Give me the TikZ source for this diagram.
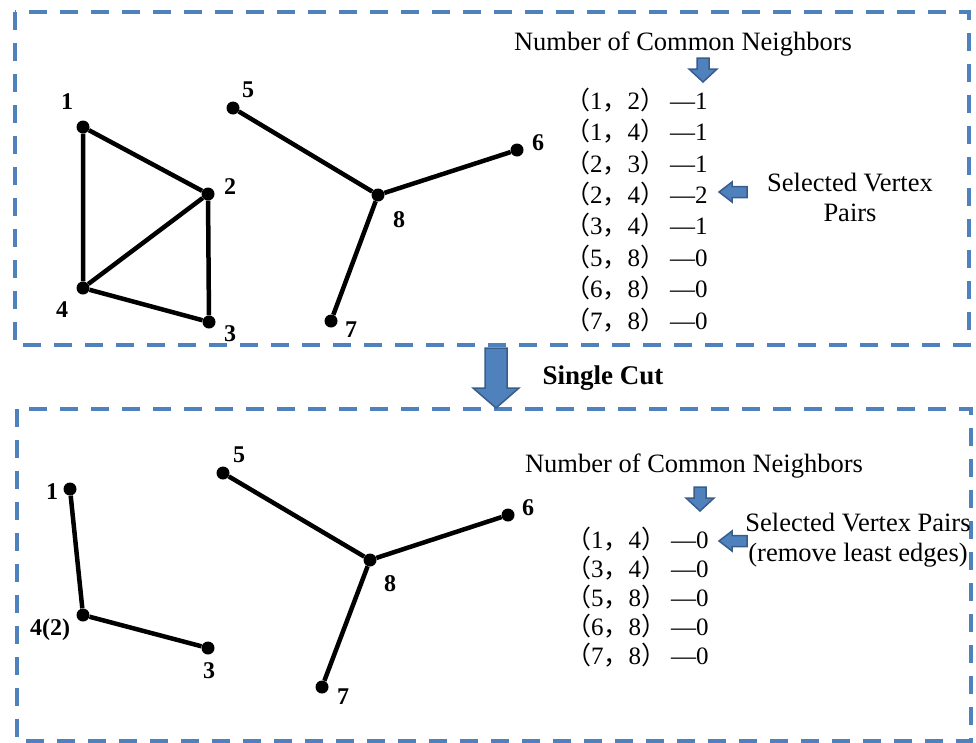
\documentclass[tikz,border=0pt]{standalone}
\usepackage{fontspec}
\setmainfont{Liberation Serif}
\newfontfamily\cjk{Noto Sans CJK SC}
\definecolor{frameblue}{RGB}{79,129,189}
\definecolor{arrowedge}{RGB}{56,93,138}
\newcommand{\pr}[3]{{\cjk （}#1{\cjk ，}#2{\cjk ）}\kern5pt—#3}
\begin{document}
\begin{tikzpicture}[x=1pt,y=-1pt,
  frame/.style={draw=frameblue,line width=4pt,dash pattern=on 18pt off 13pt},
  vtx/.style={circle,fill=black,inner sep=0pt,minimum size=13pt},
  edge/.style={line width=4.5pt},
  vlabel/.style={font=\fontsize{24}{26}\selectfont\bfseries,inner sep=0pt},
  caption/.style={font=\fontsize{26.5}{30}\selectfont,inner sep=0pt,align=center},
  row/.style={font=\fontsize{25}{27}\selectfont,inner sep=0pt,anchor=west},
  blk/.style={fill=frameblue,draw=arrowedge,line width=1.5pt,line join=miter},
  pics/darrow/.style={code={\path[blk] (-6,0)--(6,0)--(6,11)--(14,11)--(0,24)--(-14,11)--(-6,11)--cycle;}},
  pics/larrow/.style={code={\path[blk] (0,0)--(13,-10)--(13,-5.5)--(28,-5.5)--(28,5.5)--(13,5.5)--(13,10)--cycle;}}
]
\useasboundingbox (0,0) rectangle (976,742);

% dashed frames
\draw[frame] (15,12) rectangle (969,345);
\draw[frame] (17,409) rectangle (971,741);

% ---- upper graph ----
\node[vtx] (a1) at (83,127) {};
\node[vtx] (a2) at (208,194) {};
\node[vtx] (a3) at (209,322) {};
\node[vtx] (a4) at (83,288) {};
\node[vtx] (a5) at (233,108) {};
\node[vtx] (a6) at (517,150) {};
\node[vtx] (a8) at (378,195) {};
\node[vtx] (a7) at (331,321) {};
\draw[edge] (a1)--(a2) (a1)--(a4) (a2)--(a4) (a2)--(a3) (a4)--(a3)
            (a5)--(a8) (a6)--(a8) (a7)--(a8);
\node[vlabel] (la1) at (67,102) {1};
\node[vlabel] (la2) at (230,187) {2};
\node[vlabel] (la3) at (230,334) {3};
\node[vlabel] (la4) at (62,310) {4};
\node[vlabel] (la5) at (248,90) {5};
\node[vlabel] (la6) at (538,143) {6};
\node[vlabel] (la8) at (399,220) {8};
\node[vlabel] (la7) at (351,330) {7};

\node[caption] (capA) at (683,44) {Number of Common Neighbors};
\pic at (703,58) {darrow};
\node[row] (r1) at (565,100) {\pr{1}{2}{1}};
\node[row] (r2) at (565,131.4) {\pr{1}{4}{1}};
\node[row] (r3) at (565,162.8) {\pr{2}{3}{1}};
\node[row] (r4) at (565,194.2) {\pr{2}{4}{2}};
\node[row] (r5) at (565,225.6) {\pr{3}{4}{1}};
\node[row] (r6) at (565,257) {\pr{5}{8}{0}};
\node[row] (r7) at (565,288.4) {\pr{6}{8}{0}};
\node[row] (r8) at (565,319.8) {\pr{7}{8}{0}};
\pic at (719,192) {larrow};
\node[caption] (selA) at (850,197) {Selected Vertex\\Pairs};

% ---- transition ----
\path[blk] (485,348)--(507,348)--(507,388)--(519,388)--(496,408)--(473,388)--(485,388)--cycle;
\node[font=\fontsize{27}{30}\selectfont\bfseries,inner sep=0pt] (cut) at (603,378) {Single Cut};

% ---- lower graph ----
\node[vtx] (b1) at (70,489) {};
\node[vtx] (b4) at (83,615) {};
\node[vtx] (b3) at (208,648) {};
\node[vtx] (b5) at (223,473) {};
\node[vtx] (b6) at (508,515) {};
\node[vtx] (b8) at (370,560) {};
\node[vtx] (b7) at (322,687) {};
\draw[edge] (b1)--(b4) (b4)--(b3) (b5)--(b8) (b6)--(b8) (b7)--(b8);
\node[vlabel] (lb1) at (52,492) {1};
\node[vlabel] (lb4) at (50,630) {4(2)};
\node[vlabel] (lb3) at (209,671) {3};
\node[vlabel] (lb5) at (239,455) {5};
\node[vlabel] (lb6) at (528,508) {6};
\node[vlabel] (lb8) at (390,584) {8};
\node[vlabel] (lb7) at (343,697) {7};

\node[caption] (capB) at (694,466) {Number of Common Neighbors};
\pic at (700,487) {darrow};
\node[row] (s1) at (566,539) {\pr{1}{4}{0}};
\node[row] (s2) at (566,568) {\pr{3}{4}{0}};
\node[row] (s3) at (566,597) {\pr{5}{8}{0}};
\node[row] (s4) at (566,626) {\pr{6}{8}{0}};
\node[row] (s5) at (566,655) {\pr{7}{8}{0}};
\pic at (719,541) {larrow};
\node[caption] (selB) at (858,540) {Selected Vertex Pairs\\(remove least edges)};
\end{tikzpicture}
\end{document}
